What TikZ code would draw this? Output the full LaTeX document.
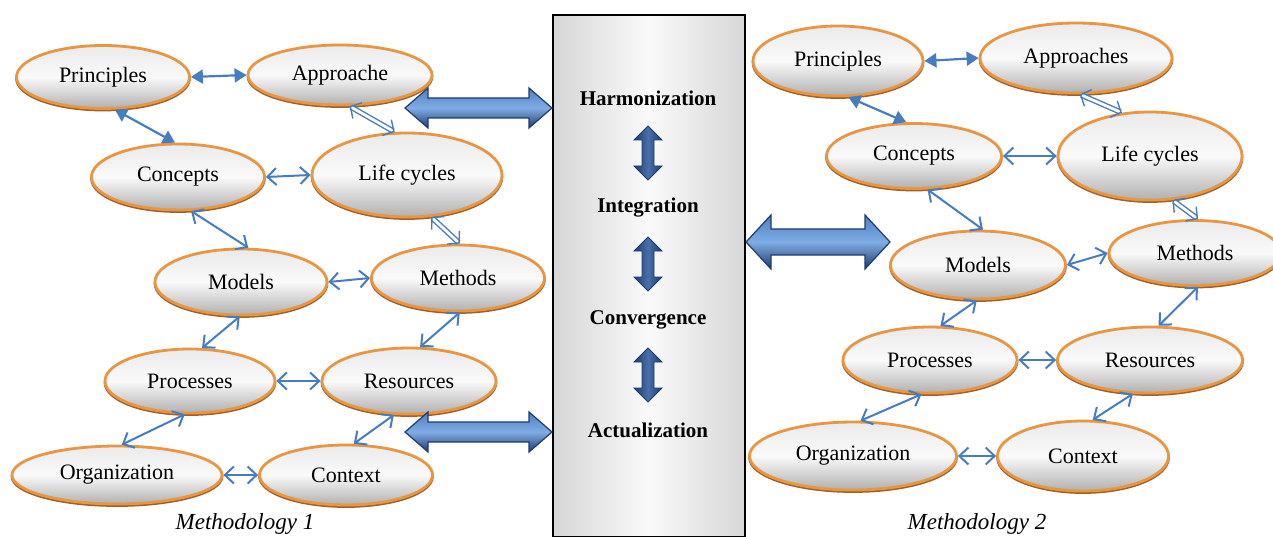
\documentclass[tikz,border=0pt]{standalone}
\usepackage{fontspec}
\setmainfont{Liberation Serif}
\usetikzlibrary{shapes.geometric,arrows.meta,calc}
\definecolor{obord}{RGB}{232,150,66}
\definecolor{obrown}{RGB}{160,96,40}
\definecolor{abl}{RGB}{70,124,192}
\definecolor{bdark}{RGB}{30,60,110}
\definecolor{bmid}{RGB}{78,128,192}
\definecolor{blight}{RGB}{128,172,228}
\definecolor{vmid}{RGB}{72,112,170}
\begin{document}
\begin{tikzpicture}[x=1pt,y=-1pt,
  bub/.style={ellipse, draw=obord, line width=2.8pt, top color=gray!16, bottom color=gray!62, middle color=white!96!gray, inner sep=0pt, font=\fontsize{22}{24}\selectfont,
    preaction={draw=obrown, line width=2.6pt, transform canvas={yshift=-1.6pt}}},
  con/.style={draw=abl, line width=2pt, arrows={Straight Barb[length=9pt,width=17pt]-Straight Barb[length=9pt,width=17pt]}},
  fcon/.style={draw=abl, line width=2.2pt, arrows={Triangle[length=12pt,width=14pt]-Triangle[length=12pt,width=14pt]}},
  dcon/.style={draw=abl, line width=1.4pt, double=white, double distance=2.8pt, arrows={Straight Barb[length=8pt,width=18pt]-Straight Barb[length=8pt,width=18pt]}},
  cbox/.style={rectangle, draw=black, line width=2.4pt, left color=gray!32, right color=gray!32, middle color=gray!4, inner sep=0pt},
  stage/.style={font=\fontsize{21}{23}\selectfont\bfseries},
  harr/.style={draw=bdark, line width=1.2pt, top color=bmid, bottom color=bdark, middle color=blight},
  varr/.style={draw=bdark, line width=0.8pt, left color=bdark, right color=bdark, middle color=vmid},
  mlab/.style={font=\fontsize{23}{25}\selectfont\itshape}
]
\useasboundingbox (0,0) rectangle (1273,537);

% central box
\node[cbox, minimum width=192pt, minimum height=522pt] (box) at (649,276) {};
\node[stage] (s1) at (648,98) {Harmonization};
\node[stage] (s2) at (648,208) {Integration};
\node[stage] (s3) at (648,320) {Convergence};
\node[stage] (s4) at (648,430) {Actualization};

% small vertical arrows
\foreach \a/\b in {s1/s2, s2/s3, s3/s4}{
  \path[varr, shift={($(\a)!0.5!(\b)$)}] (0,-27) -- (14,-13) -- (6,-13) -- (6,13) -- (14,13) -- (0,27) -- (-14,13) -- (-6,13) -- (-6,-13) -- (-14,-13) -- cycle;
}

% left methodology
\node[bub, minimum width=173pt, minimum height=63pt] (lP) at (103,77) {Principles};
\node[bub, minimum width=184pt, minimum height=60pt] (lA) at (340,75) {Approache};
\node[bub, minimum width=173pt, minimum height=66pt] (lC) at (178,177) {Concepts};
\node[bub, minimum width=190pt, minimum height=84pt] (lL) at (407,175) {Life cycles};
\node[bub, minimum width=172pt, minimum height=66pt] (lM) at (241,282) {Models};
\node[bub, minimum width=173pt, minimum height=66pt] (lMe) at (458,278) {Methods};
\node[bub, minimum width=170pt, minimum height=64pt] (lPr) at (190,381) {Processes};
\node[bub, minimum width=174pt, minimum height=66pt] (lR) at (409,381) {Resources};
\node[bub, minimum width=210pt, minimum height=58pt] (lO) at (117,475) {Organization};
\node[bub, minimum width=173pt, minimum height=60pt] (lCo) at (346,475) {Context};
\node[mlab] (m1) at (245,524) {Methodology 1};

\draw[fcon] (lP.east) -- (lA.west);
\draw[fcon] (lP.-70) -- (lC.95);
\draw[dcon] (lA.-73) -- (lL.106);
\draw[con] (lC.east) -- (lL.west);
\draw[con] (lC.-69) -- (lM.78);
\draw[dcon] (lL.-60) -- (lMe.87);
\draw[con] (lM.east) -- (lMe.west);
\draw[con] (lM.-92) -- (lPr.70);
\draw[con] (lMe.-87) -- (lR.72);
\draw[con] (lPr.east) -- (lR.west);
\draw[con] (lPr.-99) -- (lO.81);
\draw[con] (lR.-114) -- (lCo.76);
\draw[con] (lO.east) -- (lCo.west);

% right methodology
\node[bub, minimum width=170pt, minimum height=70pt] (rP) at (838,61) {Principles};
\node[bub, minimum width=192pt, minimum height=70pt] (rA) at (1076,58) {Approaches};
\node[bub, minimum width=175pt, minimum height=65pt] (rC) at (914,156) {Concepts};
\node[bub, minimum width=184pt, minimum height=88pt] (rL) at (1150,156) {Life cycles};
\node[bub, minimum width=175pt, minimum height=68pt] (rM) at (978,265) {Models};
\node[bub, minimum width=172pt, minimum height=65pt] (rMe) at (1195,253) {Methods};
\node[bub, minimum width=174pt, minimum height=66pt] (rPr) at (930,360) {Processes};
\node[bub, minimum width=185pt, minimum height=66pt] (rR) at (1150,360) {Resources};
\node[bub, minimum width=207pt, minimum height=68pt] (rO) at (853,456) {Organization};
\node[bub, minimum width=171pt, minimum height=70pt] (rCo) at (1083,456) {Context};
\node[mlab] (m2) at (977,524) {Methodology 2};

\draw[fcon] (rP.east) -- (rA.west);
\draw[fcon] (rP.-74) -- (rC.103);
\draw[dcon] (rA.-84) -- (rL.123);
\draw[con] (rC.east) -- (rL.west);
\draw[con] (rC.-68) -- (rM.82);
\draw[dcon] (rL.-63) -- (rMe.85);
\draw[con] (rM.east) -- (rMe.west);
\draw[con] (rM.-92) -- (rPr.73);
\draw[con] (rMe.-85) -- (rR.76);
\draw[con] (rPr.east) -- (rR.west);
\draw[con] (rPr.-104) -- (rO.78);
\draw[con] (rR.-117) -- (rCo.75);
\draw[con] (rO.east) -- (rCo.west);

% big block arrows
\coordinate (ha1) at (405,108);
\coordinate (ha2) at (405,432);
\coordinate (ha3) at (746,242);
\foreach \c in {ha1,ha2}{
  \path[harr, shift={(\c)}] (0,0) -- (23,-20) -- (23,-10) -- (124,-10) -- (124,-20) -- (147,0) -- (124,20) -- (124,10) -- (23,10) -- (23,20) -- cycle;
}
\path[harr, shift={(ha3)}] (0,0) -- (25,-27) -- (25,-13) -- (119,-13) -- (119,-27) -- (144,0) -- (119,27) -- (119,13) -- (25,13) -- (25,27) -- cycle;
\end{tikzpicture}
\end{document}
